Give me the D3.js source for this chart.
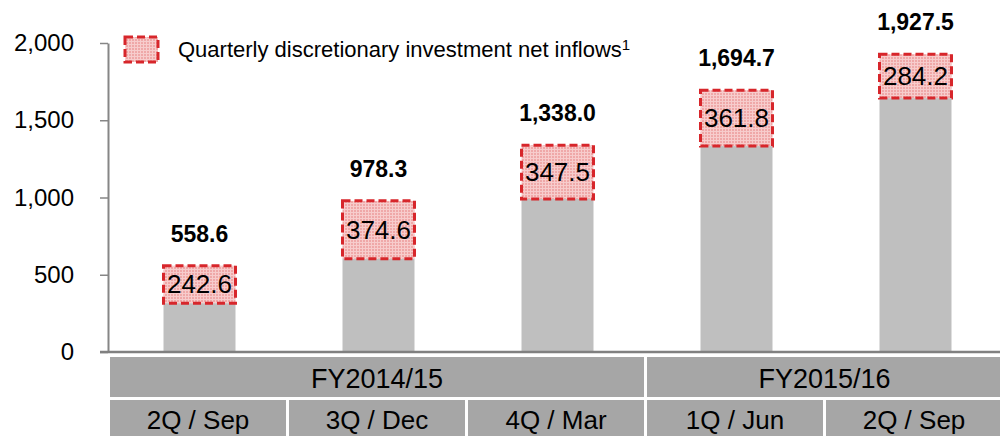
<!DOCTYPE html>
<html>
<head>
<meta charset="utf-8">
<script src="https://cdn.jsdelivr.net/npm/d3@7"></script>
<style>
  body { margin: 0; background: #fff; }
  svg { display: block; font-family: "Liberation Sans", Arial, sans-serif; }
</style>
</head>
<body>
<svg width="1000" height="436"></svg>
<script>
// quarter labels, fiscal year groups
const quarters = ['2Q / Sep', '3Q / Dec', '4Q / Mar', '1Q / Jun', '2Q / Sep '];
const quarterText = ['2Q / Sep', '3Q / Dec', '4Q / Mar', '1Q / Jun', '2Q / Sep'];
const fiscalYears = [
  { name: 'FY2014/15', from: 0, to: 2 },
  { name: 'FY2015/16', from: 3, to: 4 }
];
// cumulative balance and quarterly net inflow
const totals = [558.6, 978.3, 1338.0, 1694.7, 1927.5];
const inflows = [242.6, 374.6, 347.5, 361.8, 284.2];
const yTicks = [0, 500, 1000, 1500, 2000];

const svg = d3.select('svg');

// pink grid fill for the inflow boxes
const defs = svg.append('defs');
const pat = defs.append('pattern')
  .attr('id', 'pinkgrid')
  .attr('width', 3).attr('height', 3)
  .attr('patternUnits', 'userSpaceOnUse');
pat.append('rect').attr('width', 3).attr('height', 3).attr('fill', '#f7cccc');
pat.append('rect').attr('width', 2).attr('height', 2).attr('fill', '#efa8a8');

const x = d3.scaleBand().domain(quarters).range([110, 1005]).padding(0);
const y = d3.scaleLinear().domain([0, 2000]).range([352, 43]);
const barW = 72;
const fmt = d3.format(',.1f');

// y axis
const yAxis = svg.append('g')
  .attr('transform', 'translate(108,0)')
  .call(d3.axisLeft(y).tickValues(yTicks).tickSize(8).tickSizeOuter(0).tickPadding(26).tickFormat(d3.format(',')));
yAxis.select('.domain').attr('stroke', '#868686').attr('stroke-width', 2);
yAxis.selectAll('.tick line').attr('stroke', '#868686').attr('stroke-width', 1.5);
yAxis.selectAll('.tick text').attr('font-size', 24).attr('fill', '#000')
  .attr('font-family', '"Liberation Sans", Arial, sans-serif');

// base bars (previous balance)
svg.append('g').selectAll('rect')
  .data(quarters)
  .join('rect')
  .attr('x', d => x(d) + x.bandwidth() / 2 - barW / 2)
  .attr('width', barW)
  .attr('y', (d, i) => y(totals[i] - inflows[i]))
  .attr('height', (d, i) => y(0) - y(totals[i] - inflows[i]))
  .attr('fill', '#bfbfbf');

// baseline
svg.append('line')
  .attr('x1', 100).attr('x2', 1000)
  .attr('y1', y(0)).attr('y2', y(0))
  .attr('stroke', '#808080').attr('stroke-width', 2.5);

// inflow boxes
svg.append('g').selectAll('rect')
  .data(quarters)
  .join('rect')
  .attr('x', d => x(d) + x.bandwidth() / 2 - barW / 2)
  .attr('width', barW)
  .attr('y', (d, i) => y(totals[i]))
  .attr('height', (d, i) => y(totals[i] - inflows[i]) - y(totals[i]))
  .attr('fill', 'url(#pinkgrid)')
  .attr('stroke', '#d7262b')
  .attr('stroke-width', 3)
  .attr('stroke-dasharray', '8,4');

svg.append('g').selectAll('text')
  .data(quarters)
  .join('text')
  .attr('x', d => x(d) + x.bandwidth() / 2)
  .attr('y', (d, i) => (y(totals[i]) + y(totals[i] - inflows[i])) / 2 + 9)
  .attr('text-anchor', 'middle')
  .attr('font-size', 26)
  .text((d, i) => fmt(inflows[i]));

// total labels
svg.append('g').selectAll('text')
  .data(quarters)
  .join('text')
  .attr('x', d => x(d) + x.bandwidth() / 2)
  .attr('y', (d, i) => y(totals[i]) - 24)
  .attr('text-anchor', 'middle')
  .attr('font-size', 23)
  .attr('font-weight', 'bold')
  .text((d, i) => fmt(totals[i]));

// legend
svg.append('rect')
  .attr('x', 125).attr('y', 37).attr('width', 33).attr('height', 25)
  .attr('fill', 'url(#pinkgrid)')
  .attr('stroke', '#d7262b').attr('stroke-width', 3)
  .attr('stroke-dasharray', '8,4');
const lt = svg.append('text')
  .attr('x', 178).attr('y', 57)
  .attr('font-size', 22);
lt.append('tspan').text('Quarterly discretionary investment net inflows');
lt.append('tspan').attr('font-size', 15).attr('dy', -7).text('1');

// category table
const gap = 3;
const table = svg.append('g');
table.selectAll('rect.fy')
  .data(fiscalYears)
  .join('rect')
  .attr('class', 'fy')
  .attr('x', d => x(quarters[d.from]))
  .attr('width', d => x(quarters[d.to]) + x.bandwidth() - x(quarters[d.from]) - gap)
  .attr('y', 357).attr('height', 40)
  .attr('fill', '#a6a6a6');
table.selectAll('text.fy')
  .data(fiscalYears)
  .join('text')
  .attr('class', 'fy')
  .attr('x', d => (x(quarters[d.from]) + x(quarters[d.to]) + x.bandwidth() - gap) / 2)
  .attr('y', 388)
  .attr('text-anchor', 'middle')
  .attr('font-size', 27)
  .text(d => d.name);
table.selectAll('rect.q')
  .data(quarters)
  .join('rect')
  .attr('class', 'q')
  .attr('x', d => x(d))
  .attr('width', x.bandwidth() - gap)
  .attr('y', 400).attr('height', 40)
  .attr('fill', '#a6a6a6');
table.selectAll('text.q')
  .data(quarters)
  .join('text')
  .attr('class', 'q')
  .attr('x', d => x(d) + (x.bandwidth() - gap) / 2)
  .attr('y', 429)
  .attr('text-anchor', 'middle')
  .attr('font-size', 26)
  .text((d, i) => quarterText[i]);
</script>
</body>
</html>
